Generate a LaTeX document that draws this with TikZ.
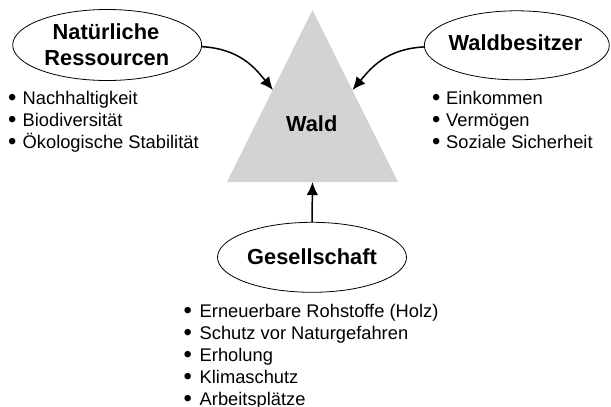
\documentclass[tikz,border=0pt]{standalone}
\usepackage{fontspec}
\setmainfont{Liberation Sans}
\usetikzlibrary{shapes.geometric,arrows.meta}
\definecolor{trigray}{RGB}{211,211,211}
\newcommand{\blt}{\raisebox{-1.3pt}{\scalebox{1.3}{•}}}
\begin{document}
\begin{tikzpicture}[x=1pt,y=-1pt,
  oval/.style={draw, ellipse, line width=0.8pt, inner sep=0},
  title/.style={font=\bfseries\fontsize{21.8}{25}\selectfont, inner sep=0, anchor=base},
  item/.style={font=\fontsize{18.3}{22}\selectfont, inner sep=0, anchor=base west},
  conn/.style={line width=1.5pt, -{Latex[length=13pt,width=11.5pt]}}]
\useasboundingbox (0,0) rectangle (611,407);
% triangle
\fill[trigray] (227,182) -- (398,182) -- (312.5,10) -- cycle;
\coordinate (lt) at (273,90);
\coordinate (rt) at (352.5,90);
\coordinate (bt) at (312.5,182);
\node[title] (wald) at (311.7,131.7) {Wald};
% ellipses
\node[oval, minimum width=189pt, minimum height=71pt] (nr) at (107.2,45) {};
\node[oval, minimum width=185pt, minimum height=69pt] (wb) at (516.8,45.3) {};
\node[oval, minimum width=189pt, minimum height=70pt] (gs) at (312,257.3) {};
\node[title] (nr1) at (106,39.3) {Natürliche};
\node[title] (nr2) at (106.8,65) {Ressourcen};
\node[title] (wbt) at (515.5,50) {Waldbesitzer};
\node[title] (gst) at (312,264.3) {Gesellschaft};
% connectors
\draw[conn] (nr.-1) .. controls (240,49) and (255,68) .. (lt);
\draw[conn] (wb.181) .. controls (386,49) and (371,68) .. (rt);
\draw[conn] (gs.north) -- (bt);
% lists
\node[item] (l1) at (8,104) {\makebox[14.5pt][l]{\blt}Nachhaltigkeit};
\node[item] (l2) at (8,126) {\makebox[14.5pt][l]{\blt}Biodiversität};
\node[item] (l3) at (8,148) {\makebox[14.5pt][l]{\blt}Ökologische Stabilität};
\node[item] (r1) at (432,104) {\makebox[14pt][l]{\blt}Einkommen};
\node[item] (r2) at (432,126) {\makebox[14pt][l]{\blt}Vermögen};
\node[item] (r3) at (432,148) {\makebox[14pt][l]{\blt}Soziale Sicherheit};
\node[item] (b1) at (183.5,317) {\makebox[16pt][l]{\blt}Erneuerbare Rohstoffe (Holz)};
\node[item] (b2) at (183.5,339) {\makebox[16pt][l]{\blt}Schutz vor Naturgefahren};
\node[item] (b3) at (183.5,361) {\makebox[16pt][l]{\blt}Erholung};
\node[item] (b4) at (183.5,383) {\makebox[16pt][l]{\blt}Klimaschutz};
\node[item] (b5) at (183.5,405) {\makebox[16pt][l]{\blt}Arbeitsplätze};
\end{tikzpicture}
\end{document}
